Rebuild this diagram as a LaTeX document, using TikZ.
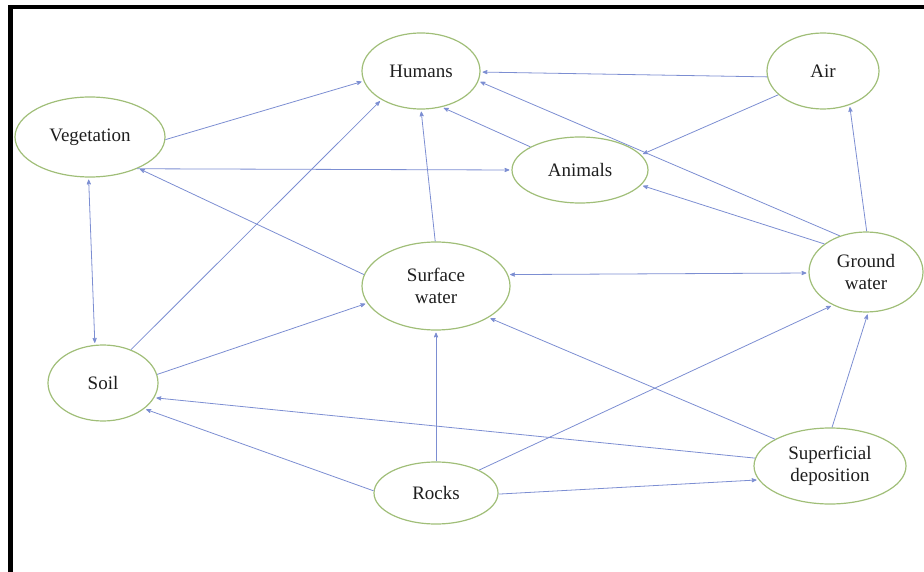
\documentclass[tikz,border=0pt]{standalone}
\usepackage{fontspec}
\setmainfont{Liberation Serif}
\newfontfamily\labelfont{Liberation Serif}
\usetikzlibrary{arrows,shapes.geometric}
\definecolor{linkblue}{RGB}{124,142,210}
\definecolor{ovalgreen}{RGB}{160,190,120}
\definecolor{labelgray}{RGB}{30,30,30}

\begin{document}
\begin{tikzpicture}[x=1pt,y=-1pt,->,>=stealth',shorten >=2pt,
                    every edge/.style={draw,linkblue,line width=0.8pt},
                    factor/.style={ellipse,draw=ovalgreen,line width=1.2pt,inner sep=0pt,
                                   text=labelgray,align=center,
                                   font=\labelfont\fontsize{19}{22}\selectfont}]

  \useasboundingbox (0,0) rectangle (924,572);
  \draw[-,shorten >=0pt,line width=4.5pt] (10.5,572) -- (10.5,7) -- (924,7);

  	\node[factor,minimum width=118pt,minimum height=76pt] (H) at (421,71)  {Humans};
  	\node[factor,minimum width=112pt,minimum height=76pt] (A) at (823,71)  {Air};
  	\node[factor,minimum width=150pt,minimum height=80pt] (V) at (90,137)  {Vegetation};
  	\node[factor,minimum width=136pt,minimum height=66pt] (N) at (580,170) {Animals};
  	\node[factor,minimum width=148pt,minimum height=88pt] (S) at (436,286) {Surface\\water};
  	\node[factor,minimum width=114pt,minimum height=80pt] (G) at (866,272) {Ground\\water};
  	\node[factor,minimum width=110pt,minimum height=76pt] (L) at (103,383) {Soil};
  	\node[factor,minimum width=124pt,minimum height=62pt] (R) at (436,493) {Rocks};
  	\node[factor,minimum width=152pt,minimum height=76pt] (D) at (830,466) {Superficial\\deposition};

  	% into Humans
  	\path (V.-2)  edge (H.190);
  	\path (L.50)  edge (H.216);
  	\path (S.91)  edge (H.270);
  	\path (N.155) edge (H.300);
  	\path (A.186) edge (H.359);
  	\path (G.126) edge (H.350);

  	% into Animals and Air
  	\path (A.208) edge (N.14);
  	\path (G.146) edge (N.346);
  	\path (V.326) edge (N.180);
  	\path (G.89)  edge (A.308);

  	\path (S.171) edge (V.327);
  	\path (V.268) edge [<->,shorten <=2pt] (L.102);
  	\path (S.9)   edge [<->,shorten <=2pt] (G.181);
  	\path (L.9)   edge (S.194);

  	% lower part
  	\path (D.174) edge (L.344);
  	\path (R.178) edge (L.328);
  	\path (R.90)  edge (S.270);
  	\path (R.28)  edge (G.225);
  	\path (D.154) edge (S.329);
  	\path (R.359) edge (D.191);
  	\path (D.87)  edge (G.273);

\end{tikzpicture}
\end{document}
